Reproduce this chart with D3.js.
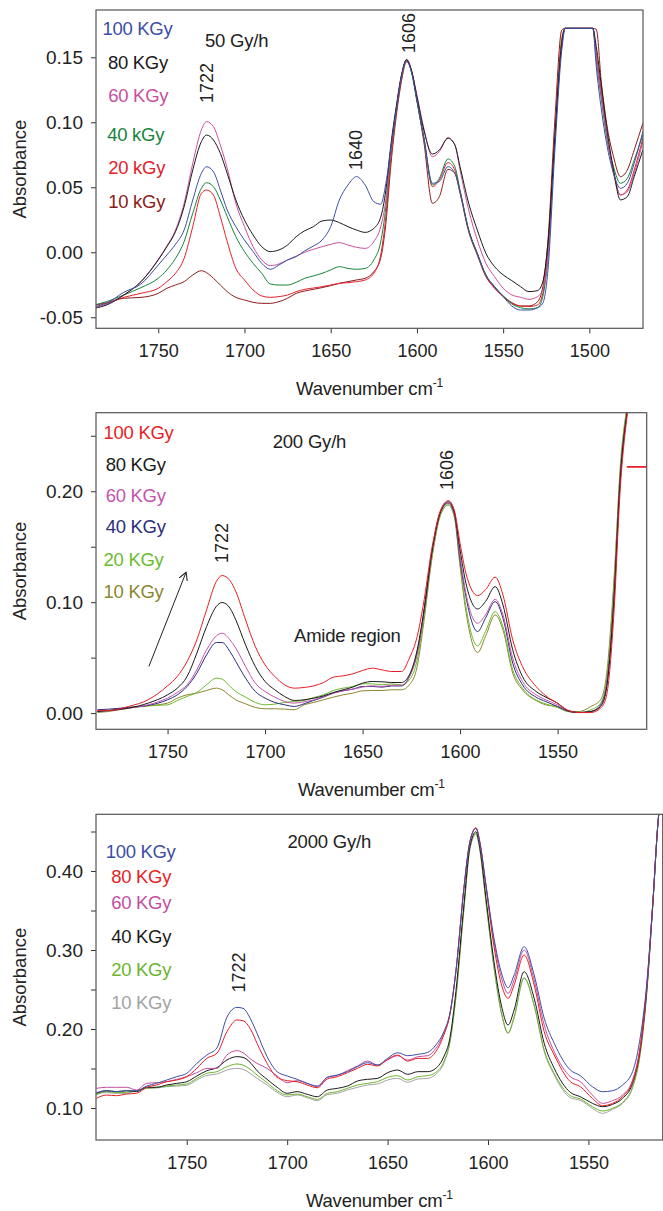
<!DOCTYPE html>
<html>
<head>
<meta charset="utf-8">
<style>
	body { margin: 0; background: #fff; }
	svg { display: block; font-family: "Liberation Sans", Arial, sans-serif; }
	.axis .domain { display: none; }
	.axis line { stroke: #333; }
	.axis text { fill: #222; }
</style>
</head>
<body>
<svg width="663" height="1211"></svg>
<script src="https://d3js.org/d3.v7.min.js"></script>
<script>

// ---- panel 1 : 50 Gy/h ----
var wn1 = [1787,1780,1770,1760,1750,1745,1740,1735,1730,1725,1722,1718,1714,1710,1705,1700,1695,1690,1685,1680,1675,1670,1665,1660,1655,1650,1645,1640,1635,1630,1625,
	1621,1618,1615,1612,1609,1606,1603,1600,1596,1591,1587,1582,1578,1575,1570,1565,1560,1555,1550,1545,1540,1535,1530,1527,1524,1520,1516,1514,1498,1496,1493,1490,1486,1482,1478,1474,1469];
var p1_100 = [-0.0418,-0.0393,-0.0308,-0.0244,-0.0098,-0.0021,0.0061,0.0171,0.0402,0.0607,0.0658,0.0620,0.0479,0.0325,0.0197,0.0094,0.0005,-0.0085,-0.0131,-0.0098,-0.0059,-0.0034,0.0012,0.0048,0.0094,0.0197,0.0402,0.0517,0.0582,0.0517,0.0389,
	0.0370,0.0530,0.0813,0.1095,0.1351,0.1474,0.1377,0.1172,0.0890,0.0531,0.0544,0.0659,0.0608,0.0467,0.0172,-0.0008,-0.0174,-0.0264,-0.0341,-0.0413,-0.0444,-0.0444,-0.0426,-0.0392,-0.0136,0.0787,0.1556,0.1723,0.1723,0.1428,0.1095,0.0838,0.0608,0.0492,0.0531,0.0685,0.0928];
var p1_80 = [-0.0431,-0.0406,-0.0329,-0.0226,-0.0059,0.0043,0.0158,0.0351,0.0633,0.0851,0.0902,0.0864,0.0761,0.0607,0.0402,0.0248,0.0133,0.0043,0.0005,0.0018,0.0056,0.0120,0.0166,0.0197,0.0241,0.0248,0.0228,0.0197,0.0171,0.0153,0.0184,
	0.0270,0.0479,0.0838,0.1120,0.1364,0.1480,0.1390,0.1197,0.0941,0.0756,0.0787,0.0877,0.0826,0.0659,0.0377,0.0172,-0.0008,-0.0110,-0.0174,-0.0218,-0.0264,-0.0303,-0.0295,-0.0226,0.0069,0.0890,0.1608,0.1723,0.1723,0.1582,0.1274,0.0967,0.0633,0.0403,0.0428,0.0582,0.0787];
var p1_60 = [-0.0424,-0.0400,-0.0329,-0.0226,-0.0054,0.0048,0.0171,0.0376,0.0684,0.0941,0.1005,0.0966,0.0825,0.0646,0.0376,0.0197,0.0043,-0.0059,-0.0103,-0.0090,-0.0059,-0.0029,0.0000,0.0023,0.0043,0.0061,0.0074,0.0056,0.0038,0.0030,0.0082,
	0.0197,0.0403,0.0813,0.1108,0.1351,0.1467,0.1390,0.1210,0.0954,0.0736,0.0774,0.0882,0.0826,0.0633,0.0326,0.0095,-0.0085,-0.0187,-0.0277,-0.0328,-0.0346,-0.0362,-0.0341,-0.0290,-0.0033,0.0864,0.1582,0.1723,0.1723,0.1505,0.1197,0.0915,0.0633,0.0441,0.0467,0.0608,0.0851];
var p1_40 = [-0.0406,-0.0380,-0.0329,-0.0272,-0.0200,-0.0136,-0.0047,0.0082,0.0300,0.0492,0.0535,0.0505,0.0402,0.0274,0.0120,0.0005,-0.0085,-0.0162,-0.0244,-0.0252,-0.0252,-0.0231,-0.0200,-0.0182,-0.0162,-0.0136,-0.0111,-0.0124,-0.0131,-0.0124,-0.0059,
	0.0080,0.0351,0.0787,0.1095,0.1351,0.1480,0.1377,0.1159,0.0877,0.0518,0.0569,0.0718,0.0659,0.0479,0.0172,-0.0008,-0.0174,-0.0264,-0.0336,-0.0397,-0.0426,-0.0436,-0.0426,-0.0341,-0.0033,0.0864,0.1620,0.1723,0.1723,0.1480,0.1172,0.0890,0.0659,0.0531,0.0569,0.0710,0.0903];
var p1_20 = [-0.0406,-0.0393,-0.0347,-0.0316,-0.0277,-0.0226,-0.0162,-0.0047,0.0197,0.0453,0.0479,0.0440,0.0274,0.0082,-0.0124,-0.0213,-0.0290,-0.0336,-0.0347,-0.0341,-0.0329,-0.0303,-0.0285,-0.0275,-0.0265,-0.0252,-0.0239,-0.0234,-0.0226,-0.0213,-0.0162,
	-0.0020,0.0274,0.0736,0.1082,0.1338,0.1485,0.1390,0.1172,0.0877,0.0505,0.0556,0.0690,0.0633,0.0467,0.0172,-0.0008,-0.0182,-0.0277,-0.0341,-0.0392,-0.0413,-0.0418,-0.0405,-0.0315,0.0018,0.0915,0.1646,0.1723,0.1723,0.1530,0.1223,0.0915,0.0608,0.0441,0.0479,0.0633,0.0877];
var p1_10 = [-0.0406,-0.0388,-0.0354,-0.0347,-0.0316,-0.0277,-0.0252,-0.0226,-0.0175,-0.0142,-0.0157,-0.0200,-0.0252,-0.0303,-0.0347,-0.0367,-0.0385,-0.0393,-0.0393,-0.0380,-0.0354,-0.0316,-0.0298,-0.0285,-0.0272,-0.0257,-0.0239,-0.0226,-0.0213,-0.0200,-0.0149,
	-0.0045,0.0223,0.0685,0.1044,0.1313,0.1467,0.1390,0.1172,0.0851,0.0377,0.0428,0.0638,0.0608,0.0454,0.0159,-0.0021,-0.0187,-0.0272,-0.0336,-0.0387,-0.0413,-0.0413,-0.0380,-0.0264,0.0095,0.1018,0.1710,0.1723,0.1723,0.1715,0.1300,0.0992,0.0736,0.0582,0.0633,0.0787,0.0992];
var p1Labels = ["100 KGy", "80 KGy", "60 KGy", "40 kGy", "20 kGy", "10 kGy"];
var p1Colors = ["#3c4ea5", "#1a1a1a", "#c9509c", "#17843a", "#e3202b", "#8c1c1c"];
var p1XTicks = [1750, 1700, 1650, 1600, 1550, 1500];
var p1YTicks = [-0.05, 0.00, 0.05, 0.10, 0.15];
var p1YLabels = [-0.05, 0.00, 0.05, 0.10, 0.15];

// ---- panel 2 : 200 Gy/h ----
var wn2 = [1786,1780,1770,1760,1750,1745,1740,1735,1730,1725,1722,1718,1715,1710,1705,1700,1695,1690,1685,1680,1675,1670,1665,1660,1655,1650,1645,1640,
	1635,1630,1626,1622,1619,1614,1610,1606,1603,1600,1597,1591,1587,1582,1578,1573,1568,1561,1556,1550,1545,1539,1533,1528,1525,1521,1518,1514,1512];
var p2_100 = [0.0024,0.0024,0.0060,0.0120,0.0246,0.0330,0.0465,0.0660,0.0931,0.1186,0.1240,0.1195,0.1096,0.0840,0.0600,0.0435,0.0330,0.0255,0.0225,0.0231,0.0246,0.0276,0.0324,0.0336,0.0354,0.0384,0.0405,0.0390,
	0.0375,0.0375,0.0495,0.0690,0.0960,0.1531,0.1831,0.1915,0.1831,0.1531,0.1261,0.1059,0.1111,0.1225,0.1065,0.0660,0.0420,0.0240,0.0155,0.0089,0.0029,0.0005,0.0005,0.0044,0.0149,0.0930,0.1981,0.2732,0.3000];
var p2_80 = [0.0015,0.0024,0.0045,0.0090,0.0165,0.0225,0.0330,0.0540,0.0780,0.0961,0.0997,0.0946,0.0840,0.0615,0.0420,0.0285,0.0210,0.0150,0.0114,0.0120,0.0135,0.0156,0.0186,0.0210,0.0234,0.0270,0.0285,0.0282,
	0.0276,0.0276,0.0345,0.0570,0.0870,0.1501,0.1816,0.1906,0.1816,0.1471,0.1171,0.0939,0.1005,0.1140,0.0975,0.0570,0.0330,0.0195,0.0143,0.0089,0.0023,0.0005,0.0014,0.0059,0.0210,0.1050,0.2071,0.2760,0.3000];
var p2_60 = [0.0015,0.0021,0.0045,0.0075,0.0135,0.0186,0.0255,0.0390,0.0570,0.0696,0.0720,0.0660,0.0585,0.0420,0.0270,0.0195,0.0144,0.0105,0.0090,0.0102,0.0120,0.0150,0.0180,0.0201,0.0216,0.0234,0.0246,0.0240,
	0.0251,0.0251,0.0330,0.0540,0.0855,0.1501,0.1816,0.1897,0.1807,0.1411,0.1080,0.0810,0.0885,0.1026,0.0885,0.0495,0.0285,0.0165,0.0119,0.0074,0.0020,0.0005,0.0014,0.0065,0.0225,0.1050,0.2086,0.2760,0.3000];
var p2_40 = [0.0030,0.0036,0.0051,0.0069,0.0120,0.0165,0.0240,0.0360,0.0525,0.0636,0.0636,0.0555,0.0465,0.0315,0.0195,0.0135,0.0096,0.0075,0.0060,0.0084,0.0114,0.0144,0.0180,0.0201,0.0216,0.0240,0.0240,0.0234,
	0.0245,0.0245,0.0330,0.0540,0.0855,0.1501,0.1816,0.1891,0.1801,0.1381,0.1050,0.0735,0.0855,0.1005,0.0855,0.0450,0.0255,0.0143,0.0104,0.0059,0.0020,0.0005,0.0014,0.0074,0.0240,0.1065,0.2101,0.2760,0.3000];
var p2_20 = [0.0015,0.0021,0.0051,0.0066,0.0075,0.0114,0.0150,0.0186,0.0255,0.0315,0.0306,0.0240,0.0195,0.0144,0.0096,0.0075,0.0081,0.0096,0.0105,0.0114,0.0141,0.0165,0.0204,0.0225,0.0240,0.0264,0.0264,0.0255,
	0.0263,0.0254,0.0300,0.0480,0.0810,0.1471,0.1801,0.1876,0.1786,0.1351,0.0960,0.0606,0.0735,0.0915,0.0780,0.0390,0.0225,0.0119,0.0083,0.0050,0.0014,0.0005,0.0029,0.0089,0.0285,0.1170,0.2191,0.2800,0.3000];
var p2_10 = [0.0006,0.0015,0.0045,0.0066,0.0090,0.0135,0.0165,0.0180,0.0204,0.0225,0.0210,0.0156,0.0120,0.0084,0.0051,0.0039,0.0039,0.0036,0.0030,0.0075,0.0096,0.0120,0.0144,0.0165,0.0180,0.0201,0.0204,0.0204,
	0.0210,0.0210,0.0255,0.0420,0.0765,0.1441,0.1786,0.1876,0.1771,0.1321,0.0915,0.0546,0.0690,0.0885,0.0750,0.0360,0.0210,0.0113,0.0074,0.0059,0.0020,0.0014,0.0059,0.0119,0.0330,0.1231,0.2131,0.2800,0.3000];
var p2Labels = ["100 KGy", "80 KGy", "60 KGy", "40 KGy", "20 KGy", "10 KGy"];
var p2Colors = ["#e61e25", "#1a1a1a", "#c553ad", "#2b2e7c", "#6cbb2e", "#8b8630"];
var p2XTicks = [1750, 1700, 1650, 1600, 1550];
var p2YTicks = [0.00, 0.05, 0.10, 0.15, 0.20, 0.25];
var p2YLabels = [0.00, 0.10, 0.20];
var p2MarkWn = [1514.5, 1504.3];   // short red stub at the right edge
var p2MarkA = 0.222;
var p2Arrow = [[1759.6, 0.042], [1740.5, 0.127]];

// ---- panel 3 : 2000 Gy/h ----
var wn3 = [1795,1790,1785,1780,1775,1770,1765,1760,1755,1750,1745,1740,1735,1730,1725,1722,1718,1715,1710,1705,1700,1695,1690,1685,1680,1675,1670,1665,1660,1655,1650,
	1645,1640,1635,1630,1626,1622,1619,1616,1612,1609,1606,1604,1601,1597,1593,1590,1587,1582,1577,1572,1567,1559,1554,1548,1543,1538,1533,1528,1524,1521,1518,1515,1513];
var p3_100 = [0.1194,0.1219,0.1207,0.1219,0.1219,0.1278,0.1312,0.1354,0.1397,0.1439,0.1565,0.1671,0.1760,0.2150,0.2274,0.2262,0.2114,0.1945,0.1650,0.1460,0.1405,0.1363,0.1312,0.1278,0.1388,0.1418,0.1460,0.1523,0.1574,0.1544,0.1629,
	0.1700,0.1662,0.1679,0.1704,0.1797,0.1966,0.2198,0.2725,0.3780,0.4371,0.4540,0.4350,0.3822,0.3147,0.2683,0.2523,0.2683,0.3042,0.2683,0.2135,0.1818,0.1481,0.1409,0.1270,0.1206,0.1219,0.1291,0.1460,0.1924,0.2557,0.3569,0.4708,0.5000];
var p3_80 = [0.1122,0.1164,0.1156,0.1177,0.1186,0.1262,0.1291,0.1333,0.1354,0.1397,0.1502,0.1629,0.1692,0.1966,0.2114,0.2105,0.1987,0.1818,0.1565,0.1388,0.1346,0.1333,0.1291,0.1257,0.1367,0.1397,0.1447,0.1502,0.1553,0.1532,0.1616,
	0.1670,0.1594,0.1628,0.1628,0.1713,0.1924,0.2177,0.2725,0.3780,0.4371,0.4548,0.4362,0.3801,0.3042,0.2535,0.2388,0.2557,0.2936,0.2557,0.1966,0.1671,0.1333,0.1270,0.1122,0.1029,0.1059,0.1143,0.1333,0.1797,0.2514,0.3569,0.4708,0.5000];
var p3_60 = [0.1249,0.1262,0.1262,0.1262,0.1228,0.1312,0.1321,0.1333,0.1363,0.1397,0.1447,0.1502,0.1502,0.1671,0.1726,0.1700,0.1616,0.1565,0.1502,0.1405,0.1321,0.1346,0.1312,0.1270,0.1388,0.1413,0.1472,0.1532,0.1595,0.1544,0.1608,
	0.1662,0.1607,0.1649,0.1662,0.1755,0.1945,0.2185,0.2725,0.3780,0.4371,0.4540,0.4350,0.3814,0.3105,0.2620,0.2451,0.2620,0.3000,0.2620,0.2050,0.1713,0.1396,0.1333,0.1164,0.1059,0.1093,0.1164,0.1354,0.1818,0.2514,0.3569,0.4708,0.5000];
var p3_40 = [0.1186,0.1219,0.1207,0.1219,0.1207,0.1262,0.1262,0.1291,0.1312,0.1333,0.1405,0.1472,0.1510,0.1608,0.1650,0.1641,0.1565,0.1472,0.1363,0.1262,0.1186,0.1207,0.1173,0.1143,0.1228,0.1249,0.1278,0.1342,0.1363,0.1375,0.1447,
	0.1481,0.1426,0.1460,0.1460,0.1502,0.1649,0.1882,0.2472,0.3569,0.4308,0.4497,0.4287,0.3654,0.2852,0.2261,0.2050,0.2240,0.2725,0.2388,0.1818,0.1502,0.1198,0.1143,0.1059,0.1017,0.1046,0.1122,0.1312,0.1776,0.2472,0.3548,0.4708,0.5000];
var p3_20 = [0.1165,0.1207,0.1194,0.1198,0.1219,0.1249,0.1262,0.1278,0.1291,0.1304,0.1375,0.1439,0.1460,0.1523,0.1557,0.1544,0.1481,0.1418,0.1321,0.1219,0.1165,0.1177,0.1143,0.1110,0.1186,0.1207,0.1249,0.1291,0.1312,0.1333,0.1388,
	0.1409,0.1354,0.1396,0.1409,0.1451,0.1586,0.1839,0.2409,0.3527,0.4286,0.4476,0.4265,0.3611,0.2789,0.2177,0.1953,0.2156,0.2649,0.2303,0.1734,0.1438,0.1156,0.1114,0.1017,0.0962,0.0996,0.1071,0.1270,0.1734,0.2451,0.3548,0.4708,0.5000];
var p3_10 = [0.1186,0.1194,0.1186,0.1186,0.1219,0.1249,0.1253,0.1270,0.1278,0.1287,0.1354,0.1413,0.1430,0.1481,0.1502,0.1489,0.1430,0.1375,0.1291,0.1198,0.1143,0.1165,0.1131,0.1093,0.1169,0.1186,0.1228,0.1262,0.1291,0.1304,0.1354,
	0.1375,0.1325,0.1367,0.1375,0.1426,0.1565,0.1818,0.2388,0.3506,0.4278,0.4464,0.4253,0.3603,0.2768,0.2156,0.1945,0.2135,0.2641,0.2291,0.1713,0.1417,0.1130,0.1097,0.0996,0.0932,0.0983,0.1059,0.1257,0.1713,0.2430,0.3535,0.4708,0.5000];
var p3Labels = ["100 KGy", "80 KGy", "60 KGy", "40 KGy", "20 KGy", "10 KGy"];
var p3Colors = ["#3c4ea5", "#e61e25", "#c24f9e", "#1a1a1a", "#6cb52d", "#a3a3a3"];
var p3XTicks = [1750, 1700, 1650, 1600, 1550];
var p3YTicks = [0.10, 0.15, 0.20, 0.25, 0.30, 0.35, 0.40, 0.45];
var p3YLabels = [0.10, 0.20, 0.30, 0.40];


var svg = d3.select("svg");

// layout of the three stacked panels
var panels = [
	{
		wn: wn1, series: [p1_100, p1_80, p1_60, p1_40, p1_20, p1_10], labels: p1Labels, colors: p1Colors,
		xTicks: p1XTicks, yTicks: p1YTicks, yLabels: p1YLabels,
		xDomain: [1786.1, 1468.9], yDomain: [-0.0585, 0.1864],
		left: 96, right: 643, top: 10, bottom: 328.3,
		legendX: [102.5, 108, 108.3, 107.3, 108.3, 108.3], legendY: [35, 69, 102, 141, 174, 208],
		rate: {text: "50 Gy/h", x: 205, y: 47},
		peaks: [{t: "1722", x: 212.5, y: 103}, {t: "1606", x: 415, y: 53}, {t: "1640", x: 362, y: 170}]
	},
	{
		wn: wn2, series: [p2_100, p2_80, p2_60, p2_40, p2_20, p2_10], labels: p2Labels, colors: p2Colors,
		xTicks: p2XTicks, yTicks: p2YTicks, yLabels: p2YLabels,
		xDomain: [1786.7, 1504.3], yDomain: [-0.0146, 0.2708],
		left: 96, right: 646.7, top: 412.7, bottom: 729.3,
		legendX: [103.6, 105.7, 105.7, 105.7, 103.6, 103.6], legendY: [439, 471, 502, 533, 565.5, 598],
		rate: {text: "200 Gy/h", x: 272.7, y: 448},
		peaks: [{t: "1722", x: 228, y: 563}, {t: "1606", x: 452.7, y: 490}]
	},
	{
		wn: wn3, series: [p3_100, p3_80, p3_60, p3_40, p3_20, p3_10], labels: p3Labels, colors: p3Colors,
		xTicks: p3XTicks, yTicks: p3YTicks, yLabels: p3YLabels,
		xDomain: [1795.2, 1513], yDomain: [0.0595, 0.4718],
		left: 96, right: 662.7, top: 814.3, bottom: 1140,
		legendX: [105.7, 111.2, 111.2, 111.2, 111.2, 111.2], legendY: [857.5, 882.5, 909, 942.5, 976, 1009],
		rate: {text: "2000 Gy/h", x: 287.5, y: 848},
		peaks: [{t: "1722", x: 245, y: 992.5}]
	}
];

var defs = svg.append("defs");
defs.append("marker")
	.attr("id", "head")
	.attr("viewBox", "0 0 10 10")
	.attr("refX", 9).attr("refY", 5)
	.attr("markerWidth", 9).attr("markerHeight", 9)
	.attr("markerUnits", "userSpaceOnUse")
	.attr("orient", "auto")
	.append("path")
	.attr("d", "M0,0 L9,5 L0,10")
	.attr("fill", "none")
	.attr("stroke", "#222")
	.attr("stroke-width", 1.2);

panels.forEach(function(p, pi) {
	var x = d3.scaleLinear().domain(p.xDomain).range([p.left, p.right]);
	var y = d3.scaleLinear().domain(p.yDomain).range([p.bottom, p.top]);

	defs.append("clipPath").attr("id", "clip" + pi)
		.append("rect")
		.attr("x", p.left).attr("y", p.top)
		.attr("width", p.right - p.left).attr("height", p.bottom - p.top);

	// axes
	svg.append("g")
		.attr("class", "axis")
		.attr("transform", "translate(0," + p.bottom + ")")
		.style("font-size", "18px")
		.call(d3.axisBottom(x).tickValues(p.xTicks).tickSize(5).tickPadding(11).tickSizeOuter(0)
			.tickFormat(function(d) { return d; }));

	svg.append("g")
		.attr("class", "axis")
		.attr("transform", "translate(" + p.left + ",0)")
		.style("font-size", "19px")
		.call(d3.axisLeft(y).tickValues(p.yTicks).tickSize(5).tickPadding(8).tickSizeOuter(0)
			.tickFormat(function(d) {
				var lab = p.yLabels.some(function(v) { return Math.abs(v - d) < 1e-9; });
				return lab ? d.toFixed(2) : "";
			}));

	// spectra
	var line = d3.line()
		.x(function(d) { return x(d[0]); })
		.y(function(d) { return y(d[1]); })
		.curve(d3.curveMonotoneX);

	var g = svg.append("g").attr("clip-path", "url(#clip" + pi + ")");
	for (var s = p.series.length - 1; s >= 0; s--) {
		var pts = p.wn.map(function(w, i) { return [w, p.series[s][i]]; });
		g.append("path")
			.attr("d", line(pts))
			.attr("fill", "none")
			.attr("stroke", p.colors[s])
			.attr("stroke-width", 1)
			.attr("stroke-linejoin", "round");
	}

	if (pi === 1) {
		g.append("line")
			.attr("x1", x(p2MarkWn[0])).attr("x2", x(p2MarkWn[1]))
			.attr("y1", y(p2MarkA)).attr("y2", y(p2MarkA))
			.attr("stroke", "#e61e25").attr("stroke-width", 1.8);

		svg.append("line")
			.attr("x1", x(p2Arrow[0][0])).attr("y1", y(p2Arrow[0][1]))
			.attr("x2", x(p2Arrow[1][0])).attr("y2", y(p2Arrow[1][1]))
			.attr("stroke", "#222").attr("stroke-width", 1)
			.attr("marker-end", "url(#head)");

		svg.append("text")
			.attr("x", 294).attr("y", 642)
			.style("font-size", "18.5px").style("letter-spacing", "-0.2px").attr("fill", "#222")
			.text("Amide region");
	}

	// frame
	svg.append("rect")
		.attr("x", p.left).attr("y", p.top)
		.attr("width", p.right - p.left).attr("height", p.bottom - p.top)
		.attr("fill", "none").attr("stroke", "#555").attr("stroke-width", 1.2);

	// legend
	p.labels.forEach(function(t, i) {
		svg.append("text")
			.attr("x", p.legendX[i]).attr("y", p.legendY[i])
			.style("font-size", "18.5px")
			.style("letter-spacing", "-0.3px")
			.attr("fill", p.colors[i])
			.text(t);
	});

	svg.append("text")
		.attr("x", p.rate.x).attr("y", p.rate.y)
		.style("font-size", "18.5px").style("letter-spacing", "-0.2px").attr("fill", "#222")
		.text(p.rate.text);

	p.peaks.forEach(function(k) {
		svg.append("text")
			.attr("transform", "translate(" + k.x + "," + k.y + ") rotate(-90)")
			.style("font-size", "18px").attr("fill", "#222")
			.text(k.t);
	});

	// axis titles
	svg.append("text")
		.attr("transform", "translate(26," + ((p.top + p.bottom) / 2) + ") rotate(-90)")
		.attr("text-anchor", "middle")
		.style("font-size", "18.5px").attr("fill", "#222")
		.text("Absorbance");

	var xt = svg.append("text")
		.attr("x", (p.left + p.right) / 2).attr("y", p.bottom + 67)
		.attr("text-anchor", "middle")
		.style("font-size", "18.5px").style("letter-spacing", "-0.2px").attr("fill", "#222");
	xt.append("tspan").text("Wavenumber cm");
	xt.append("tspan").attr("dy", -8).style("font-size", "12px").text("-1");
});

</script>
</body>
</html>
